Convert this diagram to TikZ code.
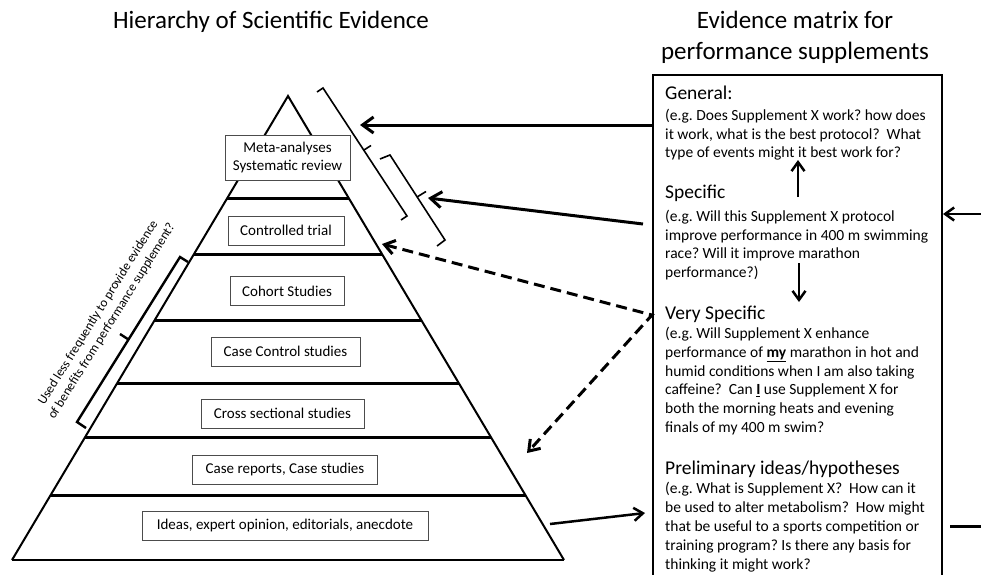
\documentclass[tikz,border=0pt]{standalone}
\usepackage{fontspec}
\setmainfont{Carlito}
\usetikzlibrary{arrows.meta,calc}
\frenchspacing
\begin{document}
\frenchspacing
\begin{tikzpicture}[x=1pt,y=-1pt,
  pedge/.style={line width=2pt, line join=miter},
  band/.style={line width=3pt},
  lvl/.style={draw=black!70, line width=1pt, fill=white, font=\fontsize{15}{17.5}\selectfont, inner sep=0pt, minimum height=29pt, align=center},
  bigarr/.style={line width=3pt, -{Straight Barb[length=11pt,width=16pt]}},
  midarr/.style={line width=2.5pt, -{Straight Barb[length=9pt,width=13pt]}},
  dasharr/.style={line width=3pt, dash pattern=on 11pt off 6pt, {Straight Barb[length=10pt,width=14pt]}-{Straight Barb[length=10pt,width=14pt]}},
  brk/.style={line width=1.6pt, line join=miter},
  lbrk/.style={line width=2.4pt, line join=miter},
  head/.style={anchor=base west, inner sep=0pt, font=\fontsize{19.5}{23}\selectfont},
  body/.style={anchor=base west, inner sep=0pt},
  ttl/.style={anchor=base, inner sep=0pt, font=\fontsize{25}{31}\selectfont}
]
\useasboundingbox (0,0) rectangle (981,574);

% titles
\node[ttl] (t1) at (271,28) {Hierarchy of Scientific Evidence};
\node[ttl] (t2) at (795,28) {\parbox[t]{330pt}{\centering\fontsize{25}{31}\selectfont Evidence matrix for\\ performance supplements}};

% pyramid
\coordinate (apex) at (288,96);
\coordinate (bl) at (12,560);
\coordinate (br) at (564,560);
\draw[pedge] (bl) -- (apex) -- (br);
\draw[line width=2.6pt] (bl) -- (br);
\foreach \yy in {198,254,320,383,437,495} {
  \draw[band] ($(apex)!{(\yy-96)/464}!(bl)$) -- ($(apex)!{(\yy-96)/464}!(br)$);
}

\node[lvl, minimum width=125pt, minimum height=45pt] (meta) at (287.5,157.5) {Meta-analyses\\Systematic review};
\node[lvl, minimum width=116pt] (ctrl) at (286,230.5) {Controlled trial};
\node[lvl, minimum width=114pt] (cohort) at (287,291) {Cohort Studies};
\node[lvl, minimum width=149pt] (cc) at (285.5,351.5) {Case Control studies};
\node[lvl, minimum width=163pt] (cross) at (282.5,413.5) {Cross sectional studies};
\node[lvl, minimum width=185pt] (crep) at (285,469.5) {Case reports, Case studies};
\node[lvl, minimum width=286pt] (ideas) at (285,525.5) {Ideas, expert opinion, editorials, anecdote};

% brackets on the right of the pyramid
\draw[brk] (317,92) -- (323,88) -- (407,216) -- (401,220);
\draw[brk] (364,150) -- (371,145.5);
\draw[brk] (380,159) -- (390,155) -- (445,240) -- (437,246);
\draw[brk] (417,197) -- (426,191.5);

% bracket on the left
\draw[lbrk] (188,262) -- (180,257) -- (77,422) -- (86,428);
\draw[lbrk] (128.5,339.5) -- (120,334);
\node[rotate=58, align=center, inner sep=0pt, font=\fontsize{13}{16}\selectfont] (note) at (105,317) {Used less frequently to provide evidence\\of benefits from performance supplement?};

% evidence matrix box
\draw[line width=1.6pt] (653,580) |- (942,75) -- (942,580);

\node[head] (hgen) at (665,99) {General:};
\node[body] (bgen) at (665,120.5) {\parbox[t]{300pt}{\raggedright\fontsize{15.5}{18.7}\selectfont (e.g. Does Supplement X work? how does\\ it work, what is the best protocol?\ \ What\\ type of events might it best work for?}};
\node[head] (hspe) at (665,198) {Specific};
\node[body] (bspe) at (665,221.5) {\parbox[t]{300pt}{\raggedright\fontsize{15.5}{18.7}\selectfont (e.g. Will this Supplement X protocol\\ improve performance in 400 m swimming\\ race? Will it improve marathon\\ performance?)}};
\node[head] (hvs) at (665,319) {Very Specific};
\node[body] (bvs) at (665,338.5) {\parbox[t]{300pt}{\raggedright\fontsize{15.5}{18.8}\selectfont (e.g. Will Supplement X enhance\\ performance of \underline{\textbf{my}} marathon in hot and\\ humid conditions when I am also taking\\ caffeine?\ \ Can \underline{\textbf{I}} use Supplement X for\\ both the morning heats and evening\\ finals of my 400 m swim?}};
\node[head] (hpre) at (665,474) {Preliminary ideas/hypotheses};
\node[body] (bpre) at (665,493) {\parbox[t]{300pt}{\raggedright\fontsize{15.5}{19}\selectfont (e.g. What is Supplement X?\ \ How can it\\ be used to alter metabolism?\ \ How might\\ that be useful to a sports competition or\\ training program? Is there any basis for\\ thinking it might work?}};

% connectors
\coordinate (gtail) at (653,125);
\coordinate (gtip) at (360,125);
\draw[bigarr] (gtail) -- (gtip);
\coordinate (stail) at (643,224);
\coordinate (stip) at (428,198);
\draw[bigarr] (stail) -- (stip);
\coordinate (dv) at (652,315);
\coordinate (dt1) at (382,244);
\coordinate (dt2) at (527,453);
\draw[dasharr] (dt1) -- (dv) -- (dt2);
\coordinate (itail) at (550,524);
\coordinate (itip) at (645,513);
\draw[midarr] (itail) -- (itip);
\coordinate (uptail) at (798,197);
\coordinate (uptip) at (798,160);
\draw[midarr] (uptail) -- (uptip);
\coordinate (dntail) at (799,263);
\coordinate (dntip) at (799,302);
\draw[midarr] (dntail) -- (dntip);
\coordinate (rtail) at (981,214);
\coordinate (rtip) at (943,214);
\draw[midarr] (rtail) -- (rtip);
\coordinate (stub1) at (950,526);
\coordinate (stub2) at (981,526);
\draw[line width=3pt] (stub1) -- (stub2);
\end{tikzpicture}
\end{document}
